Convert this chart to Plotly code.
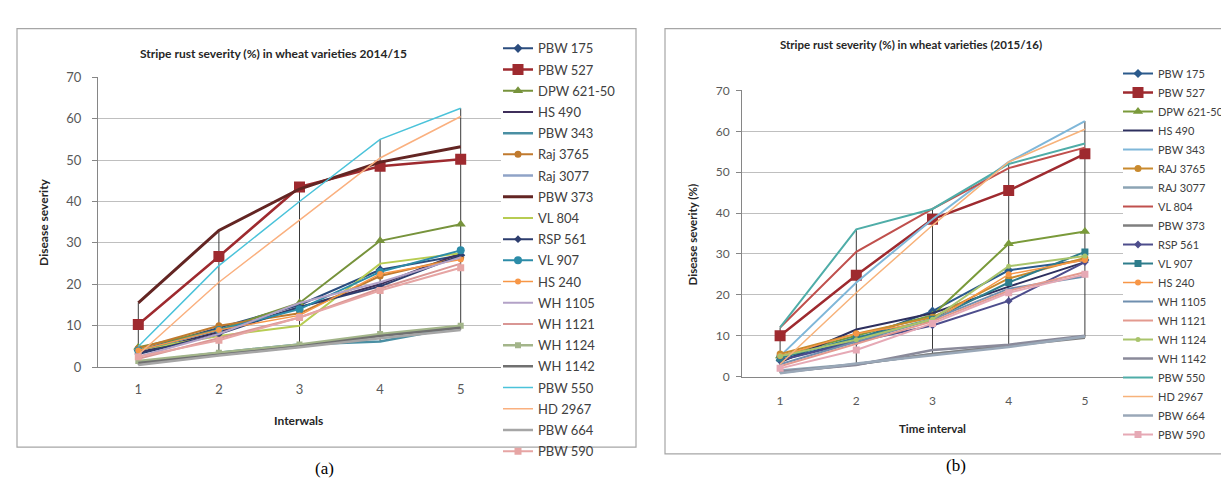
import plotly.graph_objects as go

W, H = 1229, 479

intervals = [1, 2, 3, 4, 5]

# ---------------- (a) 2014/15 ----------------
names_a = ["PBW 175", "PBW 527", "DPW 621-50", "HS 490", "PBW 343", "Raj 3765", "Raj 3077",
           "PBW 373", "VL 804", "RSP 561", "VL 907", "HS 240", "WH 1105", "WH 1121",
           "WH 1124", "WH 1142", "PBW 550", "HD 2967", "PBW 664", "PBW 590"]
a_pbw175 = [4.0, 9.5, 15.0, 23.5, 27.0]
a_pbw527 = [10.3, 26.7, 43.5, 48.5, 50.2]
a_dpw621 = [4.8, 9.0, 15.5, 30.5, 34.5]
a_hs490 = [3.5, 8.5, 14.5, 20.0, 27.5]
a_pbw343 = [1.2, 3.5, 5.5, 6.2, 9.8]
a_raj3765 = [4.5, 10.0, 13.0, 22.0, 26.5]
a_raj3077 = [1.0, 3.2, 5.2, 7.8, 9.5]
a_pbw373 = [15.5, 33.0, 43.0, 49.5, 53.2]
a_vl804 = [4.2, 7.5, 10.0, 25.0, 27.5]
a_rsp561 = [3.2, 8.0, 14.5, 19.5, 27.0]
a_vl907 = [4.0, 9.0, 14.0, 23.0, 28.2]
a_hs240 = [4.0, 9.0, 12.5, 22.5, 26.0]
a_wh1105 = [2.5, 8.0, 15.5, 20.5, 26.5]
a_wh1121 = [2.0, 7.0, 12.0, 19.0, 25.0]
a_wh1124 = [1.5, 3.5, 5.5, 8.0, 10.0]
a_wh1142 = [1.0, 3.0, 5.0, 7.5, 9.5]
a_pbw550 = [5.0, 24.5, 40.0, 55.0, 62.5]
a_hd2967 = [3.0, 20.5, 35.5, 50.5, 60.5]
a_pbw664 = [0.5, 2.8, 4.8, 7.0, 9.0]
a_pbw590 = [2.5, 6.5, 12.0, 18.5, 24.0]

# ---------------- (b) 2015/16 ----------------
names_b = ["PBW 175", "PBW 527", "DPW 621-50", "HS 490", "PBW 343", "RAJ 3765", "RAJ 3077",
           "VL 804", "PBW 373", "RSP 561", "VL 907", "HS 240", "WH 1105", "WH 1121",
           "WH 1124", "WH 1142", "PBW 550", "HD 2967", "PBW 664", "PBW 590"]
b_pbw175 = [4.0, 9.0, 16.0, 26.0, 28.5]
b_pbw527 = [10.0, 24.8, 38.5, 45.5, 54.5]
b_dpw621 = [5.0, 10.0, 15.0, 32.5, 35.5]
b_hs490 = [3.5, 11.5, 15.5, 22.0, 28.0]
b_pbw343 = [5.0, 23.0, 38.5, 52.5, 62.5]
b_raj3765 = [5.5, 10.5, 14.5, 24.0, 29.0]
b_raj3077 = [1.5, 3.0, 5.5, 7.5, 9.8]
b_vl804 = [12.0, 30.5, 41.0, 51.0, 56.0]
b_pbw373 = [1.0, 3.0, 5.5, 7.5, 9.5]
b_rsp561 = [4.0, 8.5, 12.5, 18.5, 28.0]
b_vl907 = [4.5, 9.5, 14.0, 23.0, 30.5]
b_hs240 = [5.0, 10.5, 13.5, 25.0, 28.5]
b_wh1105 = [3.0, 8.5, 14.0, 21.5, 24.5]
b_wh1121 = [2.5, 8.0, 13.5, 21.0, 25.5]
b_wh1124 = [5.0, 9.0, 14.0, 27.0, 29.5]
b_wh1142 = [1.2, 2.8, 6.5, 7.8, 10.0]
b_pbw550 = [12.0, 36.0, 41.0, 52.0, 57.0]
b_hd2967 = [3.0, 20.5, 37.0, 52.5, 60.5]
b_pbw664 = [0.8, 3.2, 5.2, 7.2, 9.8]
b_pbw590 = [2.0, 6.5, 13.0, 20.5, 25.0]

values_a = [a_pbw175, a_pbw527, a_dpw621, a_hs490, a_pbw343, a_raj3765, a_raj3077, a_pbw373,
            a_vl804, a_rsp561, a_vl907, a_hs240, a_wh1105, a_wh1121, a_wh1124, a_wh1142,
            a_pbw550, a_hd2967, a_pbw664, a_pbw590]
values_b = [b_pbw175, b_pbw527, b_dpw621, b_hs490, b_pbw343, b_raj3765, b_raj3077, b_vl804,
            b_pbw373, b_rsp561, b_vl907, b_hs240, b_wh1105, b_wh1121, b_wh1124, b_wh1142,
            b_pbw550, b_hd2967, b_pbw664, b_pbw590]

# styles: (color, marker symbol or None, marker size, line width)
style_a = [
    ("#2B4C7E", "diamond", 7, 2), ("#9E2A2F", "square", 11, 2.5), ("#77933C", "triangle-up", 9, 2),
    ("#3F2F5B", None, 0, 2), ("#4A8FA3", None, 0, 2.5), ("#C07A2E", "circle", 7, 2),
    ("#8FA3C7", None, 0, 2.5), ("#632523", None, 0, 3), ("#B7CC52", None, 0, 2),
    ("#2D3D6E", "diamond", 6, 2), ("#2C8CA8", "circle", 8, 2), ("#F79646", "circle", 6, 1.5),
    ("#B3A2C7", None, 0, 2), ("#D99694", None, 0, 2), ("#A3B58A", "square", 6, 2.5),
    ("#707070", None, 0, 2.5), ("#4BC3DA", None, 0, 1.5), ("#FAB07F", None, 0, 1.5),
    ("#A6A6A6", None, 0, 2.5), ("#E6A5A4", "square", 7, 2),
]
style_b = [
    ("#2B5A8C", "diamond", 7, 2), ("#9E2A2F", "square", 11, 2.5), ("#7A9A3A", "triangle-up", 9, 2),
    ("#2D2F5E", None, 0, 2), ("#7FB7D9", None, 0, 2), ("#C98A2E", "circle", 7, 2),
    ("#8CA4B4", None, 0, 2.5), ("#C0504D", None, 0, 2), ("#7F7F7F", None, 0, 2.5),
    ("#4D4D8C", "diamond", 6, 2), ("#2E7D8C", "square", 7, 2), ("#F79646", "circle", 6, 1.5),
    ("#6F8FAF", None, 0, 2), ("#E39A8F", None, 0, 2), ("#A9C46C", "circle", 5, 2),
    ("#8A8A9A", None, 0, 2.5), ("#4FADA8", None, 0, 2), ("#F7B27A", None, 0, 1.5),
    ("#9AA8B8", None, 0, 2.5), ("#E6A9B5", "square", 7, 2),
]

FONT = "Lato"

fig = go.Figure()


def add_panel(names, values, styles, xa, ya, legend):
    # high-low lines (min to max of all series at each interval)
    hx, hy = [], []
    for i, x in enumerate(intervals):
        col = [v[i] for v in values]
        hx += [x, x, None]
        hy += [min(col), max(col), None]
    fig.add_trace(go.Scatter(x=hx, y=hy, mode="lines", xaxis=xa, yaxis=ya,
                             line=dict(color="#3A3A3A", width=1), showlegend=False,
                             hoverinfo="skip"))
    for k, (name, vals, st) in enumerate(zip(names, values, styles)):
        color, sym, size, lw = st
        kw = dict(x=intervals, y=vals, name=name, xaxis=xa, yaxis=ya, legend=legend,
                  legendgroup=legend + str(k), line=dict(color=color, width=lw))
        if sym:
            kw["mode"] = "lines+markers"
            kw["marker"] = dict(symbol=sym, size=size, color=color)
        else:
            kw["mode"] = "lines"
        fig.add_trace(go.Scatter(**kw))


add_panel(names_a, values_a, style_a, "x", "y", "legend")
add_panel(names_b, values_b, style_b, "x2", "y2", "legend2")


def px(x):
    return x / W


def py(y):
    return 1 - y / H


axis_common = dict(showgrid=False, zeroline=False, showline=True, linecolor="#868686",
                   linewidth=1)
yaxis_common = dict(range=[0, 70], dtick=10, showgrid=True, gridcolor="#BFBFBF", gridwidth=1,
                    zeroline=False, showline=True, linecolor="#868686", ticks="outside",
                    ticklen=5, tickcolor="#868686")

fig.update_layout(
    width=W, height=H, margin=dict(l=0, r=0, t=0, b=0),
    paper_bgcolor="white", plot_bgcolor="white",
    xaxis=dict(domain=[px(90), px(493)], range=[0.5, 5.5], tickvals=intervals, ticks="",
               ticklabelstandoff=10, anchor="y",
               tickfont=dict(family=FONT, size=13, color="#595959"), **axis_common),
    yaxis=dict(domain=[py(363.3), py(63.3)], anchor="x", ticklabelstandoff=8,
               tickfont=dict(family=FONT, size=13, color="#595959"), **yaxis_common),
    xaxis2=dict(domain=[px(734), px(1115)], range=[0.5, 5.5], tickvals=intervals, ticks="",
                ticklabelstandoff=13, anchor="y2",
                tickfont=dict(family=FONT, size=12, color="#595959"), **axis_common),
    yaxis2=dict(domain=[py(373), py(77)], anchor="x2", ticklabelstandoff=4,
                tickfont=dict(family=FONT, size=12, color="#595959"), **yaxis_common),
    legend=dict(x=px(490), y=py(18), xanchor="left", yanchor="top", tracegroupgap=1.3,
                traceorder="grouped", itemwidth=30,
                font=dict(family=FONT, size=13, color="#404040"), bgcolor="rgba(0,0,0,0)"),
    legend2=dict(x=px(1110), y=py(44.5), xanchor="left", yanchor="top", tracegroupgap=0,
                 traceorder="grouped", itemwidth=30,
                 font=dict(family=FONT, size=11, color="#404040"), bgcolor="rgba(0,0,0,0)"),
    showlegend=True,
)

# panel borders
fig.add_shape(type="rect", xref="paper", yref="paper", x0=px(9), x1=px(628), y0=py(446), y1=py(13),
              line=dict(color="#A6A6A6", width=1.2), layer="below")
fig.add_shape(type="rect", xref="paper", yref="paper", x0=px(657), x1=px(1226), y0=py(453), y1=py(13),
              line=dict(color="#A6A6A6", width=1.2), layer="below")


def ann(text, x, y, size, bold=False, angle=0, family=FONT, color="#262626"):
    fig.add_annotation(text=("<b>%s</b>" % text) if bold else text, x=px(x), y=py(y),
                       xref="paper", yref="paper", showarrow=False, xanchor="center",
                       yanchor="middle", textangle=angle,
                       font=dict(family=family, size=size, color=color))


ann("Stripe rust severity (%) in wheat varieties 2014/15", 265, 39, 12, bold=True)
ann("Stripe rust severity (%) in wheat varieties (2015/16)", 903, 29, 11.5, bold=True)
ann("Interwals", 290, 418, 12, bold=True)
ann("Time interval", 924, 427, 11.5, bold=True)
ann("Disease severity", 36, 213, 12, bold=True, angle=-90)
ann("Disease severity (%)", 684, 227, 11.5, bold=True, angle=-90)
ann("(a)", 316, 468, 17, family="Liberation Serif", color="black")
ann("(b)", 948, 465, 17, family="Liberation Serif", color="black")

fig.write_html("out.html")
